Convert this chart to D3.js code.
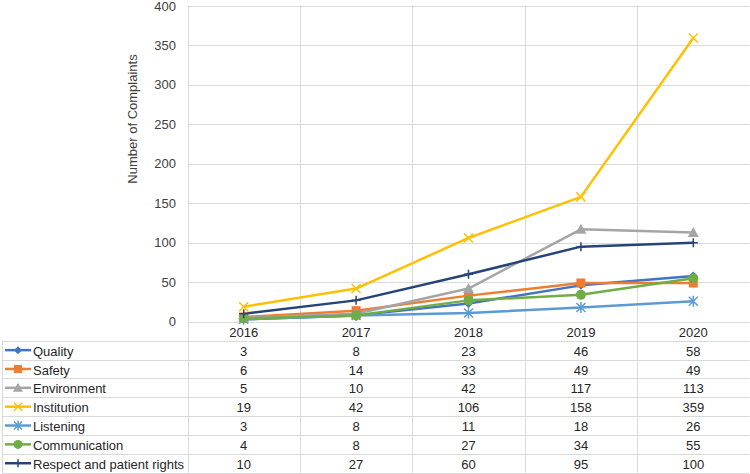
<!DOCTYPE html>
<html><head><meta charset="utf-8">
<script src="https://cdn.jsdelivr.net/npm/d3@7"></script>
<style>body{margin:0;background:#fff}svg{display:block;font-family:"Liberation Sans",Arial,sans-serif}</style>
</head><body><svg id="c" width="750" height="474"></svg>
<script>
const years = ["2016","2017","2018","2019","2020"];
const seriesNames = ["Quality","Safety","Environment","Institution","Listening","Communication","Respect and patient rights"];
const quality = [3,8,23,46,58];
const safety = [6,14,33,49,49];
const environment = [5,10,42,117,113];
const institution = [19,42,106,158,359];
const listening = [3,8,11,18,26];
const communication = [4,8,27,34,55];
const respect = [10,27,60,95,100];
const yTicks = [0,50,100,150,200,250,300,350,400];
const colors = ["#4472C4","#ED7D31","#A5A5A5","#FFC000","#5B9BD5","#70AD47","#264478"];
const markers = ["diamond","square","triangle","x","star","circle","plus"];
const values = [quality,safety,environment,institution,listening,communication,respect];

const svg = d3.select("#c");
const L = 187.5, R = 749.5, T = 5.7, B = 321.7;
const x = d3.scaleBand().domain(years).range([L,R]);
const y = d3.scaleLinear().domain([0,400]).range([B,T]);
const grid = "#d9d9d9";

svg.append("g").selectAll("line").data(yTicks).join("line")
  .attr("x1",L).attr("x2",R).attr("y1",d=>Math.round(y(d))+0.5).attr("y2",d=>Math.round(y(d))+0.5)
  .attr("stroke",grid).attr("stroke-width",1);
const bounds = years.map(d=>x(d)).concat([R]);
svg.append("g").selectAll("text").data(yTicks).join("text")
  .attr("x",176).attr("y",d=>Math.max(y(d),6.5)).attr("dy","0.35em").attr("text-anchor","end")
  .attr("font-size",13).attr("fill","#404040").text(d=>d);
svg.append("text").attr("transform",`translate(137,119) rotate(-90)`)
  .attr("text-anchor","middle").attr("font-size",13).attr("fill","#404040").text("Number of Complaints");

const rowH = 18.85;
const tTop = B, hdrBottom = 340.7;
const rowY = i => hdrBottom + i*rowH;
const tBottom = rowY(seriesNames.length);
svg.append("g").selectAll("line").data(bounds).join("line")
  .attr("x1",d=>Math.round(d)+0.5).attr("x2",d=>Math.round(d)+0.5)
  .attr("y1",T).attr("y2",tBottom).attr("stroke",grid);
const hLines = d3.range(seriesNames.length+1).map(rowY);
svg.append("g").selectAll("line").data(hLines).join("line")
  .attr("x1",2).attr("x2",R).attr("y1",d=>Math.round(d)+0.5).attr("y2",d=>Math.round(d)+0.5).attr("stroke",grid);
svg.append("line").attr("x1",2.5).attr("x2",2.5).attr("y1",hdrBottom).attr("y2",tBottom).attr("stroke",grid);
svg.append("g").selectAll("text").data(years).join("text")
  .attr("x",d=>x(d)+x.bandwidth()/2).attr("y",(tTop+hdrBottom)/2+1).attr("dy","0.35em")
  .attr("text-anchor","middle").attr("font-size",13).attr("fill","#262626").text(d=>d);

function drawMarker(g, type, color, s){
  const r = s;
  if(type==="diamond") g.append("path").attr("d",`M0,${-r}L${r},0L0,${r}L${-r},0Z`).attr("fill",color);
  else if(type==="square") g.append("rect").attr("x",-r).attr("y",-r).attr("width",2*r).attr("height",2*r).attr("fill",color);
  else if(type==="triangle") g.append("path").attr("d",`M0,${-r-1}L${r+1},${r}L${-r-1},${r}Z`).attr("fill",color);
  else if(type==="circle") g.append("circle").attr("r",r+0.5).attr("fill",color);
  else if(type==="x") g.append("path").attr("d",`M${-r},${-r}L${r},${r}M${-r},${r}L${r},${-r}`).attr("stroke",color).attr("stroke-width",1.5).attr("fill","none");
  else if(type==="star") g.append("path").attr("d",`M${-r},${-r}L${r},${r}M${-r},${r}L${r},${-r}M0,${-r-1}L0,${r+1}`).attr("stroke",color).attr("stroke-width",1.5).attr("fill","none");
  else if(type==="plus") g.append("path").attr("d",`M${-r},0L${r},0M0,${-r}L0,${r}`).attr("stroke",color).attr("stroke-width",1.5).attr("fill","none");
}

const line = d3.line().x((d,i)=>x(years[i])+x.bandwidth()/2).y(d=>y(d));
values.forEach((vals,k)=>{
  svg.append("path").datum(vals).attr("d",line).attr("fill","none")
    .attr("stroke",colors[k]).attr("stroke-width",2.5).attr("stroke-linejoin","round");
});
values.forEach((vals,k)=>{
  vals.forEach((v,i)=>{
    const g = svg.append("g").attr("transform",`translate(${x(years[i])+x.bandwidth()/2},${y(v)})`);
    drawMarker(g, markers[k], colors[k], 4.5);
  });
});

seriesNames.forEach((name,k)=>{
  const cy = rowY(k)+rowH/2;
  svg.append("line").attr("x1",5).attr("x2",31).attr("y1",cy).attr("y2",cy).attr("stroke",colors[k]).attr("stroke-width",2.5);
  const g = svg.append("g").attr("transform",`translate(18,${cy})`);
  drawMarker(g, markers[k], colors[k], 4);
  svg.append("text").attr("x",33).attr("y",cy+1).attr("dy","0.35em").attr("font-size",13).attr("fill","#262626").text(name);
  values[k].forEach((v,i)=>{
    svg.append("text").attr("x",x(years[i])+x.bandwidth()/2).attr("y",cy+1).attr("dy","0.35em")
      .attr("text-anchor","middle").attr("font-size",13).attr("fill","#262626").text(v);
  });
});
</script></body></html>
